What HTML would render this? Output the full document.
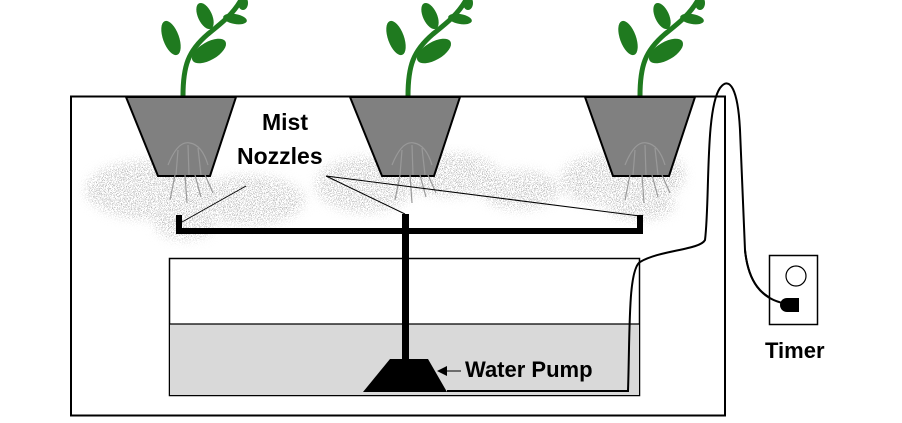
<!DOCTYPE html>
<html><head><meta charset="utf-8"><style>
html,body{margin:0;padding:0;background:#fff;}
svg{display:block}
text{font-family:"Liberation Sans",sans-serif;font-weight:bold;fill:#000}
</style></head><body>
<svg width="902" height="423" viewBox="0 0 902 423" xmlns="http://www.w3.org/2000/svg">
<defs>
<filter id="sp" x="0" y="0" width="100%" height="100%" filterUnits="userSpaceOnUse">
<feTurbulence type="fractalNoise" baseFrequency="1.2" numOctaves="1" seed="3" result="n"/>
<feColorMatrix in="n" type="matrix" values="0 0 0 0 0.45 0 0 0 0 0.45 0 0 0 0 0.45 12 0 0 0 -6.3" result="d"/>
<feComposite in="d" in2="SourceGraphic" operator="in"/>
</filter>
<filter id="bl"><feGaussianBlur stdDeviation="5"/></filter>
<g id="plant">
<path d="M0 0 C0 -30 5 -45 25 -62 C40 -74 50 -82 58 -96" fill="none" stroke="#1f7a1f" stroke-width="5"/>
<ellipse cx="-12" cy="-58" rx="8" ry="18" transform="rotate(-20 -12 -58)" fill="#1f7a1f"/>
<ellipse cx="26" cy="-45" rx="19" ry="9" transform="rotate(-30 26 -45)" fill="#1f7a1f"/>
<ellipse cx="22" cy="-80" rx="7" ry="14" transform="rotate(-25 22 -80)" fill="#1f7a1f"/>
<ellipse cx="52" cy="-77" rx="12" ry="5" transform="rotate(10 52 -77)" fill="#1f7a1f"/>
<ellipse cx="60" cy="-93" rx="5" ry="7" fill="#1f7a1f"/>
</g>
</defs>
<!-- spray -->
<g filter="url(#sp)">
<g filter="url(#bl)" fill="#fff">
<ellipse cx="150" cy="190" rx="65" ry="30"/>
<ellipse cx="250" cy="200" rx="55" ry="25"/>
<ellipse cx="185" cy="225" rx="30" ry="15"/>
<ellipse cx="365" cy="185" rx="50" ry="28"/>
<ellipse cx="450" cy="175" rx="50" ry="22"/>
<ellipse cx="520" cy="190" rx="40" ry="20"/>
<ellipse cx="600" cy="180" rx="40" ry="25"/>
<ellipse cx="660" cy="175" rx="25" ry="22"/>
<ellipse cx="640" cy="205" rx="35" ry="15"/>
</g>
</g>
<!-- plants -->
<use href="#plant" x="183" y="96"/>
<use href="#plant" x="408" y="96"/>
<use href="#plant" x="640" y="96"/>
<!-- outer box -->
<rect x="71" y="96.5" width="654" height="319" fill="none" stroke="#000" stroke-width="2"/>
<!-- pots -->
<g fill="#808080" stroke="#000" stroke-width="2">
<polygon points="126,97 236,97 210,176 158,176"/>
<polygon points="350,97 460,97 434,176 382,176"/>
<polygon points="585,97 695,97 669,176 613,176"/>
</g>
<!-- roots -->
<g stroke="#999" stroke-width="1.2" fill="none">
<path d="M168 165 q10 -25 22 -22 q12 2 18 22 M178 150 l-2 25 M188 145 l1 30 M198 148 l3 27 M175 175 l-5 25 M185 175 l2 28 M195 175 l6 22 M205 175 l8 18"/>
<path d="M392 165 q10 -25 22 -22 q12 2 18 22 M402 150 l-2 25 M412 145 l1 30 M422 148 l3 27 M400 175 l-5 25 M410 175 l2 28 M420 175 l6 22 M428 175 l8 18"/>
<path d="M625 165 q10 -25 22 -22 q12 2 18 22 M635 150 l-2 25 M645 145 l1 30 M655 148 l3 27 M630 175 l-5 25 M642 175 l2 28 M652 175 l6 22 M662 175 l8 18"/>
</g>
<!-- tank -->
<rect x="169.5" y="258.5" width="470" height="137" fill="#fff" stroke="#000" stroke-width="1.5"/>
<rect x="170" y="324" width="469" height="71" fill="#d9d9d9"/>
<line x1="170" y1="324" x2="639" y2="324" stroke="#000" stroke-width="1.2"/>
<!-- pipe -->
<rect x="176" y="228" width="467" height="6" fill="#000"/>
<rect x="176" y="215" width="6" height="19" fill="#000"/>
<rect x="637" y="215" width="6" height="19" fill="#000"/>
<rect x="402" y="214" width="7" height="150" fill="#000"/>
<polygon points="390,359 428,359 447,392 363,392" fill="#000"/>
<!-- leaders -->
<g stroke="#000" stroke-width="1" fill="none">
<line x1="246" y1="186" x2="182" y2="222"/>
<line x1="326" y1="176" x2="405" y2="214"/>
<line x1="326" y1="176" x2="640" y2="216"/>
<line x1="444" y1="371" x2="461" y2="371"/>
</g>
<polygon points="437,371 447,366 447,376" fill="#000"/>
<!-- wire -->
<path d="M447 391 L628 391 C630 330 628 270 640 262 C660 250 700 250 705 240 C710 200 705 110 720 88 C730 75 738 90 740 130 C742 180 743 200 745 250 C748 280 760 300 788 303" fill="none" stroke="#000" stroke-width="2"/>
<!-- outlet -->
<rect x="769.5" y="255.5" width="48" height="69" fill="#fff" stroke="#000" stroke-width="1.5"/>
<circle cx="796" cy="276" r="10" fill="#fff" stroke="#000" stroke-width="1.2"/>
<path d="M787 298 L799 298 L799 312 L787 312 A7 7 0 0 1 787 298 Z" fill="#000"/>
<path d="M745 250 C748 280 760 300 788 304" fill="none" stroke="#000" stroke-width="2"/>
<!-- text -->
<text x="262" y="130" font-size="23">Mist</text>
<text x="237" y="164" font-size="23">Nozzles</text>
<text x="465" y="377" font-size="22">Water Pump</text>
<text x="765" y="358" font-size="22">Timer</text>
</svg>
</body></html>
